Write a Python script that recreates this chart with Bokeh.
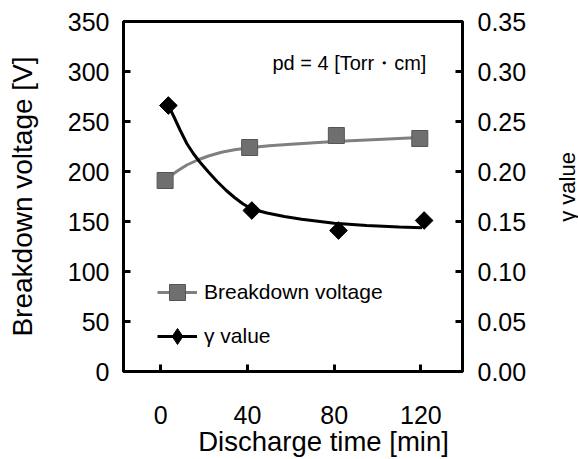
import math
from bokeh.plotting import figure
from bokeh.layouts import row
from bokeh.models import (Range1d, LinearAxis, FixedTicker, PrintfTickFormatter,
                          Legend, LegendItem, Label)
from bokeh.embed import file_html
from bokeh.resources import INLINE

# ---- data ----
x_ticks = [0, 40, 80, 120]
v_ticks = [0, 50, 100, 150, 200, 250, 300, 350]
g_ticks = [0.0, 0.05, 0.10, 0.15, 0.20, 0.25, 0.30, 0.35]

bv_time = [2, 41, 81, 119.5]
breakdown_voltage = [191, 224, 236, 233]

gamma_time = [3.5, 42, 82, 121.5]
gamma_value = [0.266, 0.161, 0.141, 0.151]

# fitted trend curves
bv_fit_time = [2, 5, 8, 12, 17, 22, 28, 34, 41, 50, 60, 80, 100, 119.5]
bv_fit = [191, 196.5, 201, 206.5, 211.5, 215.5, 219.3, 221.8, 223.8, 225.8, 227.3, 229.9, 232.1, 234]

gamma_fit_time = [3.5, 6, 9, 12, 15, 18, 22, 26, 30, 34, 38, 42, 49, 57, 65, 80, 95, 110, 120.5]
gamma_fit = [0.266, 0.255, 0.241, 0.228, 0.218, 0.2095, 0.1995, 0.190, 0.1815, 0.174,
             0.1675, 0.1625, 0.1585, 0.155, 0.1522, 0.1483, 0.146, 0.1445, 0.1437]

FONT = "Liberation Sans"
NBSP = "\u00a0"

p = figure(width=552, height=459, x_range=Range1d(-17.2, 139.2), y_range=Range1d(0, 350),
           output_backend="svg", toolbar_location=None,
           min_border_left=123, min_border_right=90, min_border_top=21, min_border_bottom=88)
p.extra_y_ranges = {"g": Range1d(0, 0.35)}
p.grid.visible = False
p.outline_line_color = "black"
p.outline_line_width = 3
p.background_fill_color = "white"
p.border_fill_color = "white"

right = LinearAxis(y_range_name="g")
p.add_layout(right, "right")

def style(ax):
    ax.axis_line_width = 3
    ax.major_tick_in = 7
    ax.major_tick_out = 0
    ax.major_tick_line_width = 3
    ax.minor_tick_in = 0
    ax.minor_tick_out = 0
    ax.major_label_text_font = FONT
    ax.major_label_text_font_size = "25px"
    ax.major_label_text_color = "black"
    ax.axis_label_text_font = FONT
    ax.axis_label_text_font_style = "normal"
    ax.axis_label_text_color = "black"

for ax in [p.xaxis[0], p.yaxis[0], right]:
    style(ax)

p.xaxis[0].ticker = FixedTicker(ticks=x_ticks)
# leading no-break spaces shift the centred title right, as in the reference
p.xaxis[0].axis_label = NBSP * 8 + "Discharge time [min]"
p.xaxis[0].axis_label_text_font_size = "27.5px"
p.xaxis[0].major_label_standoff = 34
p.xaxis[0].axis_label_standoff = -1

p.yaxis[0].ticker = FixedTicker(ticks=v_ticks)
p.yaxis[0].axis_label = "Breakdown voltage [V]"
p.yaxis[0].axis_label_text_font_size = "28px"
p.yaxis[0].major_label_standoff = 14
p.yaxis[0].axis_label_standoff = 27

right.ticker = FixedTicker(ticks=g_ticks)
right.formatter = PrintfTickFormatter(format="%.2f")
right.major_label_standoff = 15

GRAY = "#6f6f6f"
r_bv_line = p.line(bv_fit_time, bv_fit, line_color="#808080", line_width=3)
r_bv_pts = p.scatter(bv_time, breakdown_voltage, marker="square", size=16,
                     fill_color=GRAY, line_color="#555555", line_width=1)

r_g_line = p.line(gamma_fit_time, gamma_fit, line_color="black", line_width=3, y_range_name="g")
# diamond glyph used as the legend key; it sits fully under the rotated squares below
r_g_key = p.scatter(gamma_time, gamma_value, marker="diamond", size=16,
                    fill_color="black", line_color="black", y_range_name="g")
r_g_pts = p.scatter(gamma_time, gamma_value, marker="square", angle=math.pi / 4, size=12.5,
                    fill_color="black", line_color="black", y_range_name="g")

legend = Legend(items=[LegendItem(label="Breakdown voltage", renderers=[r_bv_line, r_bv_pts]),
                       LegendItem(label="γ value", renderers=[r_g_line, r_g_key])],
                location=(34, 13), padding=0, margin=0, spacing=0,
                glyph_width=40, glyph_height=44, label_height=44, label_standoff=7,
                label_text_font=FONT, label_text_font_size="21px", label_text_color="black",
                background_fill_alpha=0, border_line_alpha=0)
p.add_layout(legend)

p.add_layout(Label(x=51.5, y=308.5, text="pd = 4 [Torr・cm]", text_font=FONT,
                   text_font_size="20px", text_baseline="alphabetic", text_color="black"))

# narrow strip on the right carrying the right-hand axis title (reads bottom to top)
t = figure(width=26, height=459, x_range=Range1d(0, 26), y_range=Range1d(0, 459),
           output_backend="svg", toolbar_location=None,
           min_border_left=0, min_border_right=0, min_border_top=0, min_border_bottom=0)
t.axis.visible = False
t.grid.visible = False
t.outline_line_color = None
t.background_fill_color = "white"
t.border_fill_color = "white"
t.add_layout(Label(x=15, y=242, text="γ value", angle=math.pi / 2, text_align="center",
                   text_baseline="middle", text_font=FONT, text_font_size="22px",
                   text_color="black"))

layout = row(p, t, spacing=0)
open("out.html", "w").write(file_html(layout, INLINE))
